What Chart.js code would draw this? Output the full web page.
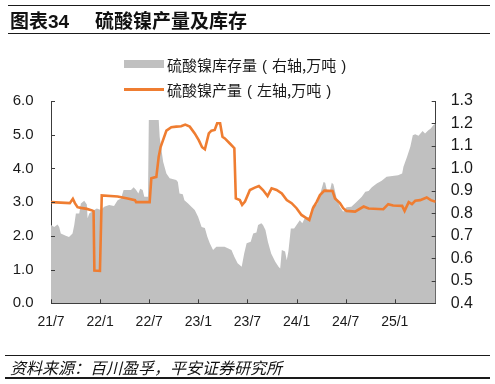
<!DOCTYPE html>
<html>
<head>
<meta charset="utf-8">
<script src="https://cdn.jsdelivr.net/npm/chart.js@4/dist/chart.umd.min.js"></script>
<style>
  html,body{margin:0;padding:0;background:#fff;}
  #wrap{position:relative;width:495px;height:384px;overflow:hidden;background:#fff;}
  #c{position:absolute;left:0;top:0;}
  .hl{position:absolute;left:8px;width:482px;background:#1a1a1a;}
  .t{position:absolute;white-space:nowrap;color:#111;}
  #title1,#title2{font-family:"Liberation Sans","Noto Sans CJK SC",sans-serif;font-weight:bold;font-size:19px;line-height:19px;top:12px;}
  .lg{font-family:"Noto Sans CJK SC","Liberation Sans",sans-serif;font-size:15px;line-height:15px;color:#1a1a1a;}
  .p{display:inline-block;width:15px;text-align:center;font-family:"Liberation Sans",sans-serif;}
  #src{font-family:"Noto Sans CJK SC",sans-serif;font-style:italic;font-size:16px;line-height:16px;top:358.5px;left:10px;color:#111;}
</style>
</head>
<body>
<div id="wrap">
  <canvas id="c" width="495" height="384"></canvas>
  <div class="hl" style="top:4.5px;height:1.6px"></div>
  <div class="t" id="title1" style="left:10px">图表34</div>
  <div class="t" id="title2" style="left:95px">硫酸镍产量及库存</div>
  <div class="hl" style="top:32.5px;height:1.6px"></div>
  <div style="position:absolute;left:124px;top:60px;width:40px;height:8px;background:#C0C0C0"></div>
  <div class="t lg" style="left:167px;top:56.5px">硫酸镍库存量<span class="p">(</span>右轴,万吨<span class="p">)</span></div>
  <div style="position:absolute;left:124px;top:88px;width:40px;height:2.5px;background:#EF7D31"></div>
  <div class="t lg" style="left:167px;top:81.5px">硫酸镍产量<span class="p">(</span>左轴,万吨<span class="p">)</span></div>
  <div class="hl" style="top:354.5px;height:1px;left:5px;width:485px"></div>
  <div class="t" id="src">资料来源：百川盈孚，平安证券研究所</div>
  <div class="hl" style="top:377px;height:2px;left:5px;width:485px"></div>
</div>
<script>
// x positions are months counted from 2021/7
const tickLabels = ['21/7','22/1','22/7','23/1','23/7','24/1','24/7','25/1'];
const tickMonths = [0, 6, 12, 18, 24, 30, 36, 42];

// 硫酸镍产量 (left axis, 万吨)
const prodMonths = [0, 2.3, 2.67, 2.92, 3.24, 3.65, 4.38, 5.08, 5.2, 5.3,
  5.98, 6.2, 8.14, 9.36, 10.26, 10.4, 11.85, 12.05, 12.26, 12.87,
  13.16, 13.4, 14.1, 14.7, 15.3, 15.9, 16.4, 16.95, 17.56, 18.05,
  18.46, 18.8, 19.28, 19.6, 20.0, 20.3, 20.66, 20.95, 21.24, 21.85,
  22.4, 22.58, 23.07, 23.35, 23.7, 24.3, 24.9, 25.4, 25.9, 26.46,
  26.95, 27.56, 28.2, 28.8, 29.4, 30.0, 30.6, 31.56, 32.0, 32.46,
  32.86, 33.4, 34.4, 34.7, 35.3, 35.7, 36.1, 37.15, 38.2, 38.8,
  40.6, 41.2, 41.8, 42.9, 43.2, 43.7, 44.1, 44.5, 45.1, 45.9,
  46.4, 47.0];
const prodValues = [3.0, 2.97, 3.10, 2.97, 2.85, 2.83, 2.80, 2.75, 2.73, 0.97,
  0.96, 3.20, 3.17, 3.11, 3.06, 3.0, 3.0, 3.0, 3.71, 3.75,
  4.35, 4.64, 5.12, 5.22, 5.24, 5.25, 5.30, 5.24, 5.04, 4.84,
  4.63, 4.57, 5.04, 5.12, 5.14, 5.34, 5.34, 4.94, 4.89, 4.74,
  4.60, 3.11, 3.06, 2.92, 3.02, 3.36, 3.43, 3.48, 3.36, 3.18,
  3.41, 3.36, 3.26, 3.06, 2.97, 2.82, 2.62, 2.47, 2.82, 3.01,
  3.21, 3.34, 3.33, 3.11, 2.97, 2.82, 2.74, 2.72, 2.87, 2.81,
  2.79, 2.94, 2.90, 2.89, 2.74, 3.0, 2.94, 3.04, 3.06, 3.14,
  3.06, 3.01];

// 硫酸镍库存量 (right axis, 万吨)
const invMonths = [0, 0.39, 0.8, 1.0, 1.2, 1.8, 2.2, 2.63, 2.84, 3.04,
  3.45, 3.65, 4.06, 4.38, 4.47, 4.67, 5.28, 5.6, 6.1, 6.5,
  7.1, 7.7, 8.14, 8.55, 8.87, 9.77, 10.1, 10.4, 10.67, 10.9,
  11.2, 11.4, 11.85, 11.95, 13.16, 13.28, 13.7, 14.1, 14.5, 15.3,
  15.5, 15.7, 16.1, 16.3, 16.75, 17.15, 17.56, 17.97, 18.4, 18.8,
  19.1, 19.4, 19.8, 20.2, 21.2, 21.6, 22.05, 22.4, 22.8, 23.3,
  23.6, 23.9, 24.4, 24.7, 25.1, 25.3, 25.7, 25.9, 26.2, 26.5,
  26.9, 27.4, 27.8, 28.0, 28.2, 28.6, 28.8, 29.0, 29.3, 29.7,
  30.0, 30.4, 30.7, 31.0, 31.6, 32.0, 32.5, 32.9, 33.3, 33.5,
  33.7, 34.1, 34.3, 34.5, 34.9, 35.3, 35.7, 36.1, 36.7, 37.35,
  37.97, 38.4, 38.8, 39.2, 39.8, 40.4, 41.0, 42.4, 42.9, 43.06,
  43.5, 43.9, 44.2, 44.5, 44.9, 45.4, 45.7, 46.1, 46.4, 46.7,
  47.0];
const invValues = [0.748, 0.74, 0.751, 0.74, 0.711, 0.70, 0.695, 0.711, 0.748, 0.80,
  0.80, 0.844, 0.856, 0.84, 0.778, 0.80, 0.815, 0.822, 0.815, 0.829,
  0.837, 0.833, 0.859, 0.866, 0.904, 0.904, 0.916, 0.904, 0.889, 0.91,
  0.904, 0.874, 0.874, 1.215, 1.215, 1.14, 1.03, 0.978, 0.956, 0.948,
  0.94, 0.889, 0.885, 0.859, 0.844, 0.829, 0.815, 0.785, 0.74, 0.735,
  0.696, 0.667, 0.637, 0.652, 0.652, 0.645, 0.637, 0.607, 0.578, 0.563,
  0.622, 0.667, 0.674, 0.711, 0.715, 0.748, 0.756, 0.748, 0.726, 0.674,
  0.622, 0.585, 0.563, 0.555, 0.637, 0.63, 0.592, 0.63, 0.733, 0.733,
  0.748, 0.77, 0.756, 0.778, 0.785, 0.837, 0.84, 0.889, 0.94, 0.936,
  0.904, 0.904, 0.936, 0.93, 0.867, 0.829, 0.807, 0.827, 0.83, 0.852,
  0.874, 0.896, 0.9, 0.916, 0.933, 0.945, 0.963, 0.97, 0.978, 1.007,
  1.052, 1.096, 1.148, 1.152, 1.145, 1.167, 1.155, 1.17, 1.178, 1.192,
  1.2];

const prodData = prodMonths.map((m, i) => ({x: m, y: prodValues[i]}));
const invData = invMonths.map((m, i) => ({x: m, y: invValues[i]}));

const AXIS = '#3c3c3c';
const innerTicks = {
  id: 'innerTicks',
  afterDraw(chart) {
    const {ctx, chartArea: a, scales: {x, y, y1}} = chart;
    ctx.save();
    ctx.strokeStyle = AXIS;
    ctx.lineWidth = 1;
    ctx.beginPath();
    x.ticks.forEach(t => {
      const px = Math.round(x.getPixelForValue(t.value)) + 0.5;
      ctx.moveTo(px, a.bottom); ctx.lineTo(px, a.bottom - 4);
    });
    y.ticks.forEach(t => {
      const py = Math.round(y.getPixelForValue(t.value)) + 0.5;
      ctx.moveTo(a.left, py); ctx.lineTo(a.left + 4, py);
    });
    y1.ticks.forEach(t => {
      const py = Math.round(y1.getPixelForValue(t.value)) + 0.5;
      ctx.moveTo(a.right, py); ctx.lineTo(a.right - 4, py);
    });
    ctx.stroke();
    ctx.restore();
  }
};

Chart.defaults.font.family = "'Liberation Sans', Arial, sans-serif";
Chart.defaults.color = '#1a1a1a';

new Chart(document.getElementById('c'), {
  type: 'line',
  data: {
    datasets: [
      {
        label: '硫酸镍产量（左轴,万吨）',
        data: prodData,
        yAxisID: 'y',
        borderColor: '#EF7D31',
        borderWidth: 2.6,
        pointRadius: 0,
        tension: 0,
        fill: false,
        order: 1
      },
      {
        label: '硫酸镍库存量（右轴,万吨）',
        data: invData,
        yAxisID: 'y1',
        borderWidth: 0,
        borderColor: 'rgba(0,0,0,0)',
        backgroundColor: '#C0C0C0',
        pointRadius: 0,
        tension: 0,
        fill: 'start',
        order: 2
      }
    ]
  },
  options: {
    responsive: false,
    animation: false,
    devicePixelRatio: 1,
    layout: {padding: {left: 0, right: 0, top: 101, bottom: 40.7}},
    plugins: {legend: {display: false}, tooltip: {enabled: false}},
    scales: {
      x: {
        type: 'linear',
        min: 0,
        max: 47,
        afterBuildTicks: s => { s.ticks = tickMonths.map(v => ({value: v})); },
        afterFit: s => { s.height = 40; },
        ticks: {
          autoSkip: false,
          maxRotation: 0,
          padding: 10.5,
          font: {size: 14},
          callback: v => tickLabels[tickMonths.indexOf(v)]
        },
        grid: {display: false, drawTicks: false},
        border: {display: true, color: AXIS, width: 1}
      },
      y: {
        position: 'left',
        min: 0,
        max: 6,
        afterFit: s => { s.width = 51; },
        ticks: {stepSize: 1, padding: 17.5, font: {size: 15}, callback: v => Number(v).toFixed(1)},
        grid: {display: false, drawTicks: false},
        border: {display: true, color: AXIS, width: 1}
      },
      y1: {
        position: 'right',
        min: 0.4,
        max: 1.3,
        afterFit: s => { s.width = 59.3; },
        ticks: {stepSize: 0.1, padding: 15, font: {size: 16}, callback: v => Number(v).toFixed(1)},
        grid: {display: false, drawTicks: false},
        border: {display: true, color: AXIS, width: 1}
      }
    }
  },
  plugins: [innerTicks]
});
</script>
</body>
</html>
